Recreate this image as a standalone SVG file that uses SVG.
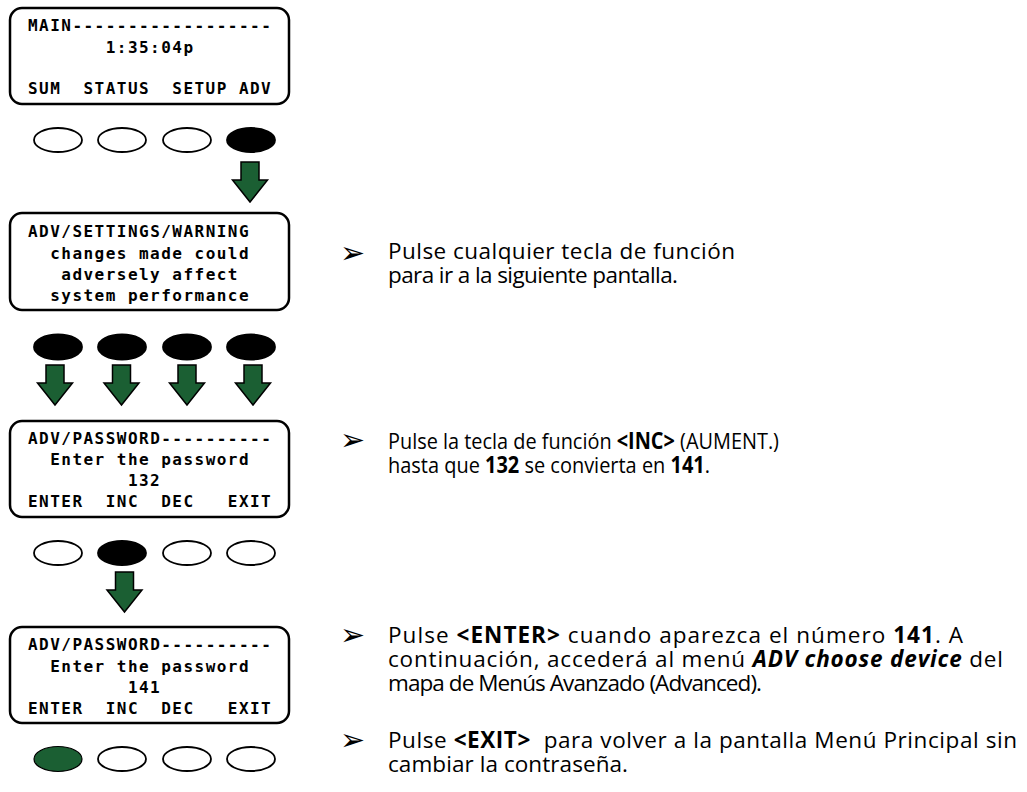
<svg xmlns="http://www.w3.org/2000/svg" width="1027" height="792" viewBox="0 0 1027 792">
<defs>
<style>
.scr{fill:#fff;stroke:#000;stroke-width:2.5}
.lcd{font-family:"DejaVu Sans Mono","Liberation Mono",monospace;font-weight:bold;font-size:16px;letter-spacing:1.47px;fill:#000}
.key{fill:#fff;stroke:#000;stroke-width:1.8}
.on{fill:#000;stroke:#000;stroke-width:1.8}
.grn{fill:#1b5f33;stroke:#000;stroke-width:1.2}
.arr{fill:#1b5f33;stroke:#000;stroke-width:1.5;stroke-linejoin:miter}
.txt{font-family:"Open Sans","Noto Sans","Liberation Sans",sans-serif;font-size:22.5px;fill:#000}
.blt{font-family:"DejaVu Sans",sans-serif;font-size:30px;fill:#000}
.b{font-weight:bold}
.bi{font-weight:bold;font-style:italic}
</style>
<polygon id="dn" points="-9,0 9,0 9,18 17.5,18 0,40 -17.5,18 -9,18"/>
</defs>

<g id="screen-main">
<rect class="scr" x="10" y="8" width="279" height="96" rx="12"/>
<text class="lcd" x="28" y="31">MAIN------------------</text>
<text class="lcd" x="105.7" y="53">1:35:04p</text>
<text class="lcd" x="28" y="94">SUM</text>
<text class="lcd" x="83.5" y="94">STATUS</text>
<text class="lcd" x="172.3" y="94">SETUP</text>
<text class="lcd" x="238.9" y="94">ADV</text>
</g>
<g id="keys-1">
<ellipse class="key" cx="58" cy="140" rx="24" ry="12"/>
<ellipse class="key" cx="122" cy="140" rx="24" ry="12"/>
<ellipse class="key" cx="187" cy="140" rx="24" ry="12"/>
<ellipse class="on" cx="251" cy="140" rx="24" ry="12"/>
</g>

<g id="screen-warning">
<rect class="scr" x="10" y="213" width="279" height="97" rx="12"/>
<text class="lcd" x="28" y="237">ADV/SETTINGS/WARNING</text>
<text class="lcd" x="50.2" y="259">changes made could</text>
<text class="lcd" x="61.3" y="280">adversely affect</text>
<text class="lcd" x="50.2" y="301">system performance</text>
</g>
<g id="keys-2">
<ellipse class="on" cx="58" cy="347" rx="24" ry="12.5"/>
<ellipse class="on" cx="122" cy="347" rx="24" ry="12.5"/>
<ellipse class="on" cx="187" cy="347" rx="24" ry="12.5"/>
<ellipse class="on" cx="251" cy="347" rx="24" ry="12.5"/>
</g>

<g id="screen-pw1">
<rect class="scr" x="10" y="421" width="279" height="96" rx="12"/>
<text class="lcd" x="28" y="444">ADV/PASSWORD----------</text>
<text class="lcd" x="50.2" y="465">Enter the password</text>
<text class="lcd" x="127.9" y="486">132</text>
<text class="lcd" x="28" y="507">ENTER</text>
<text class="lcd" x="105.7" y="507">INC</text>
<text class="lcd" x="161.2" y="507">DEC</text>
<text class="lcd" x="227.8" y="507">EXIT</text>
</g>
<g id="keys-3">
<ellipse class="key" cx="58" cy="553" rx="24" ry="12"/>
<ellipse class="on" cx="122" cy="553" rx="24" ry="12"/>
<ellipse class="key" cx="187" cy="553" rx="24" ry="12"/>
<ellipse class="key" cx="251" cy="553" rx="24" ry="12"/>
</g>

<g id="screen-pw2">
<rect class="scr" x="10" y="627" width="279" height="96" rx="12"/>
<text class="lcd" x="28" y="650">ADV/PASSWORD----------</text>
<text class="lcd" x="50.2" y="672">Enter the password</text>
<text class="lcd" x="127.9" y="693">141</text>
<text class="lcd" x="28" y="714">ENTER</text>
<text class="lcd" x="105.7" y="714">INC</text>
<text class="lcd" x="161.2" y="714">DEC</text>
<text class="lcd" x="227.8" y="714">EXIT</text>
</g>
<g id="keys-4">
<ellipse class="grn" cx="58" cy="759" rx="24" ry="12.5"/>
<ellipse class="key" cx="122" cy="759" rx="24" ry="12"/>
<ellipse class="key" cx="187" cy="759" rx="24" ry="12"/>
<ellipse class="key" cx="251" cy="759" rx="24" ry="12"/>
</g>

<g id="connectors">
<use href="#dn" class="arr" x="250" y="162"/>
<use href="#dn" class="arr" x="55" y="365"/>
<use href="#dn" class="arr" x="121.5" y="365"/>
<use href="#dn" class="arr" x="187" y="365"/>
<use href="#dn" class="arr" x="253" y="365"/>
<use href="#dn" class="arr" x="124.5" y="572"/>
</g>

<g id="notes">
<text class="blt" x="340" y="263">➢</text>
<text class="txt" x="388" y="259" textLength="347" lengthAdjust="spacing">Pulse cualquier tecla de función</text>
<text class="txt" x="388" y="283" textLength="290" lengthAdjust="spacing">para ir a la siguiente pantalla.</text>

<text class="blt" x="340" y="450">➢</text>
<text class="txt" x="388" y="449" textLength="391" lengthAdjust="spacingAndGlyphs">Pulse la tecla de función <tspan class="b">&lt;INC&gt;</tspan> (AUMENT.)</text>
<text class="txt" x="388" y="473" textLength="322" lengthAdjust="spacingAndGlyphs">hasta que <tspan class="b">132</tspan> se convierta en <tspan class="b">141</tspan>.</text>

<text class="blt" x="340" y="645">➢</text>
<text class="txt" x="388" y="643" textLength="575" lengthAdjust="spacing">Pulse <tspan class="b">&lt;ENTER&gt;</tspan> cuando aparezca el número <tspan class="b">141</tspan>. A</text>
<text class="txt" x="388" y="667" textLength="615" lengthAdjust="spacing">continuación, accederá al menú <tspan class="bi">ADV choose device</tspan> del</text>
<text class="txt" x="388" y="691" textLength="374" lengthAdjust="spacing">mapa de Menús Avanzado (Advanced).</text>

<text class="blt" x="340" y="750">➢</text>
<text class="txt" x="388" y="748" textLength="629" lengthAdjust="spacing" xml:space="preserve">Pulse <tspan class="b">&lt;EXIT&gt;</tspan>  para volver a la pantalla Menú Principal sin</text>
<text class="txt" x="388" y="772" textLength="240" lengthAdjust="spacing">cambiar la contraseña.</text>
</g>
</svg>
